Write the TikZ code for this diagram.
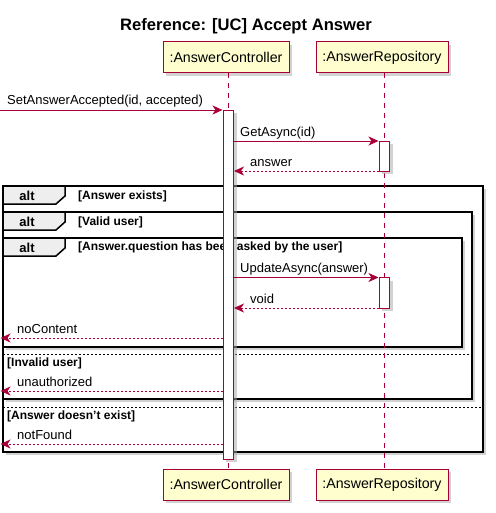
\documentclass[tikz,border=0pt]{standalone}
\usepackage{fontspec}
\setmainfont{Liberation Sans}
\usetikzlibrary{arrows.meta,shadows}
\definecolor{pu}{HTML}{A80036}
\definecolor{pubg}{HTML}{FEFECE}
\definecolor{altbg}{HTML}{EEEEEE}
\begin{document}
\begin{tikzpicture}[x=1pt,y=-1pt,
  shad/.style={drop shadow={shadow xshift=3pt,shadow yshift=-3pt,fill=black!35,opacity=0.5}},
  part/.style={draw=pu,line width=1pt,fill=pubg,minimum height=31pt,inner sep=0pt,
    font=\fontsize{14.2}{16}\selectfont,shad},
  life/.style={draw=pu,line width=0.8pt,dash pattern=on 5pt off 5pt},
  actbar/.style={draw=pu,line width=0.8pt,fill=white,shad},
  frame/.style={draw=black,line width=2pt,fill=white,shad},
  sep/.style={draw=black,line width=0.8pt,dash pattern=on 2pt off 2pt},
  msg/.style={draw=pu,line width=0.8pt,-{Stealth[length=10pt,width=9pt,inset=3pt]}},
  ret/.style={msg,dash pattern=on 2pt off 2pt},
  mlab/.style={anchor=base west,inner sep=0pt,font=\fontsize{13}{15}\selectfont},
  glab/.style={anchor=base west,inner sep=0pt,font=\fontsize{12}{14}\selectfont\bfseries},
  altlab/.style={anchor=base,inner sep=0pt,font=\fontsize{13}{15}\selectfont\bfseries}
]
\useasboundingbox (0,0) rectangle (495,513);
% title
\node[anchor=base,inner sep=0pt,font=\fontsize{16.6}{20}\selectfont\bfseries] (title) at (246,31) {Reference: [UC] Accept Answer};
% frames
\draw[frame] (3,186) rectangle (483,452);
\draw[frame] (3,212) rectangle (472,399);
\draw[frame] (3,238) rectangle (462,347);
\foreach \y/\b in {186/204,212/230,238/256}{
  \draw[line width=1.5pt,fill=altbg] (3,\y) -- (65,\y) -- (65,\b-8) -- (56,\b) -- (3,\b) -- cycle;
}
\node[altlab] (alt1) at (27,200) {alt};
\node[altlab] (alt2) at (27,226) {alt};
\node[altlab] (alt3) at (27,252) {alt};
\node[glab] (g1) at (78,199.5) {[Answer exists]};
\node[glab] (g2) at (78,225) {[Valid user]};
\node[glab] (g3) at (78,250.5) {[Answer.question has been asked by the user]};
\draw[sep] (3,354) -- (472,354);
\draw[sep] (3,407) -- (483,407);
\node[glab] (g4) at (7,366) {[Invalid user]};
\node[glab] (g5) at (7,419) {[Answer doesn't exist]};
% participants
\node[part,minimum width=126pt] (ctl) at (226,57.5) {:AnswerController};
\node[part,minimum width=132pt] (rep) at (382,57.5) {:AnswerRepository};
\node[part,minimum width=126pt] (ctlb) at (226,484.5) {:AnswerController};
\node[part,minimum width=132pt] (repb) at (382,484.5) {:AnswerRepository};
\draw[life] (228.3,73) -- (228.3,468.5);
\draw[life] (384.3,73) -- (384.3,468.5);
% activation bars
\draw[actbar] (223,110) rectangle (233.5,459);
\draw[actbar] (379,141) rectangle (389.5,171);
\draw[actbar] (379,277.5) rectangle (389.5,308);
% messages
\coordinate (s1) at (0,110); \coordinate (c1) at (222.5,110);
\draw[msg] (s1) -- (c1);
\node[mlab] (l1) at (7,104.5) {SetAnswerAccepted(id, accepted)};
\coordinate (c2) at (233.5,141); \coordinate (r2) at (378.5,141);
\draw[msg] (c2) -- (r2);
\node[mlab] (l2) at (240,136) {GetAsync(id)};
\coordinate (r3) at (379,171); \coordinate (c3) at (234,171);
\draw[ret] (r3) -- (c3);
\node[mlab] (l3) at (250,166) {answer};
\coordinate (c4) at (233.5,277.5); \coordinate (r4) at (378.5,277.5);
\draw[msg] (c4) -- (r4);
\node[mlab] (l4) at (240,272.5) {UpdateAsync(answer)};
\coordinate (r5) at (379,308); \coordinate (c5) at (234,308);
\draw[ret] (r5) -- (c5);
\node[mlab] (l5) at (250,303) {void};
\coordinate (c6) at (222.5,338); \coordinate (e6) at (0.5,338);
\draw[ret] (c6) -- (e6);
\node[mlab] (l6) at (17,333) {noContent};
\coordinate (c7) at (222.5,391); \coordinate (e7) at (0.5,391);
\draw[ret] (c7) -- (e7);
\node[mlab] (l7) at (17,386) {unauthorized};
\coordinate (c8) at (222.5,444); \coordinate (e8) at (0.5,444);
\draw[ret] (c8) -- (e8);
\node[mlab] (l8) at (17,439) {notFound};
\end{tikzpicture}
\end{document}
